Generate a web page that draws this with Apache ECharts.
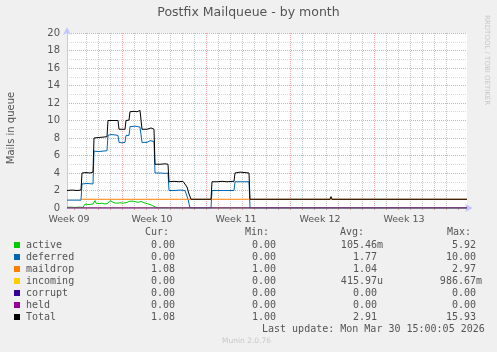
<!DOCTYPE html>
<html><head><meta charset="utf-8">
<script src="https://cdn.jsdelivr.net/npm/echarts@6/dist/echarts.min.js"></script>
<style>html,body{margin:0;padding:0;background:#f0f0f0}#c{width:497px;height:352px}</style>
</head><body><div id="c"></div>
<script>
// ---- data (hours from left edge of the graph, value) ----
const chartTitle = 'Postfix Mailqueue - by month';
const yAxisName = 'Mails in queue';
const spanHours = 800;
const stepHours = 2;
const weekLabels = ['Week 09', 'Week 10', 'Week 11', 'Week 12', 'Week 13'];
const weekLabelHours = [4, 170, 338, 506, 674];
const weekStartHours = [86, 254, 422, 590, 758];
const dayStartOffsetHours = 14;

const seriesNames = ['active', 'deferred', 'maildrop', 'incoming', 'corrupt', 'held', 'Total'];
const seriesColors = ['#00cc00', '#0066b3', '#ff8000', '#ffcc00', '#330099', '#990099', '#000000'];
const curVals = ['0.00', '0.00', '1.08', '0.00', '0.00', '0.00', '1.08'];
const minVals = ['0.00', '0.00', '1.00', '0.00', '0.00', '0.00', '1.00'];
const avgVals = ['105.46m', '1.77', '1.04', '415.97u', '0.00', '0.00', '2.91'];
const maxVals = ['5.92', '10.00', '2.97', '986.67m', '0.00', '0.00', '15.93'];
const lastUpdate = 'Last update: Mon Mar 30 15:00:05 2026';
const muninVersion = 'Munin 2.0.76';
const rrdCredit = 'RRDTOOL / TOBI OETIKER';

const activePts = [[0,0.08],[8,0.1],[16,0.06],[24,0.1],[32,0.08],[34,0.15],[36,0.45],[42,0.4],[46,0.5],[52,0.45],[56,0.85],[58,0.55],[64,0.5],[70,0.55],[76,0.45],[82,0.55],[86,0.85],[88,0.7],[94,0.6],[100,0.55],[106,0.6],[112,0.55],[118,0.6],[124,0.75],[130,0.8],[136,0.72],[142,0.65],[148,0.75],[154,0.6],[160,0.5],[166,0.4],[172,0.25],[176,0.15],[180,0.02],[184,0],[194,0],[196,0.1],[198,0],[224,0],[226,0.1],[228,0],[526,0],[528,0.1],[530,0],[800,0]];
const deferredPts = [[0,0.9],[28,0.9],[30,2.75],[40,2.8],[52,2.75],[54,6.5],[62,6.45],[72,6.5],[80,6.55],[82,8.3],[88,8.4],[96,8.35],[102,8.3],[104,7.5],[110,7.45],[116,7.5],[118,8.3],[124,8.3],[126,9.3],[136,9.35],[146,9.25],[148,9.3],[150,7.5],[160,7.5],[166,7.7],[174,7.6],[176,4.0],[188,4.0],[196,3.95],[202,4.0],[204,2.0],[216,2.0],[226,2.05],[236,2.0],[238,1.9],[242,1.0],[246,0],[288,0],[290,2.0],[310,2.0],[334,2.0],[336,3.0],[364,3.0],[366,0],[800,0]];
const maildropPts = [[30,1.0],[140,1.0],[142,1.1],[144,1.0],[800,1.0]];
const incomingPts = [[0,0],[800,0]];
const corruptPts = [[0,0],[800,0]];
const heldPts = [[0,0],[800,0]];
const totalPts = [[0,2.0],[10,2.05],[20,2.0],[28,2.05],[30,4.0],[38,4.05],[46,4.0],[52,4.1],[54,8.0],[62,8.05],[72,8.1],[80,8.15],[82,10.0],[92,10.0],[102,10.0],[104,9.0],[116,9.0],[118,10.0],[124,10.05],[126,11.0],[134,11.05],[140,11.0],[146,11.15],[148,11.0],[150,9.0],[160,9.0],[168,9.15],[174,9.0],[176,5.0],[186,5.0],[196,5.05],[202,5.0],[204,3.0],[214,3.05],[224,3.0],[232,3.05],[236,3.0],[240,2.4],[244,1.6],[248,1.0],[288,1.0],[290,3.0],[300,3.0],[310,3.05],[320,3.0],[334,3.05],[336,4.0],[346,4.1],[356,4.05],[364,4.0],[366,1.0],[494,1.0],[496,1.2],[498,1.0],[500,1.0],[502,1.2],[504,1.0],[526,1.0],[528,1.3],[530,1.0],[800,1.0]];
const allPts = [activePts, deferredPts, maildropPts, incomingPts, corruptPts, heldPts, totalPts];

// ---- build ----
const categories = [];
for (let h = 0; h <= spanHours; h += stepHours) categories.push(String(h));
const toIdx = pts => pts.map(p => [p[0] / stepHours, p[1]]);
const isWeek = h => weekStartHours.indexOf(h) >= 0;
const isDayOrWeek = h => (h - dayStartOffsetHours) % 24 === 0;
const hourOfIdx = idx => idx * stepHours;

const chart = echarts.init(document.getElementById('c'), null, {renderer: 'canvas'});
const mono = 'DejaVu Sans Mono';
const txtColor = '#555';
const gridMinor = '#c8c8c8';
const gridMajor = '#f3a0a0';
const axisCol = '#c4c4ff';

// colour per drawn vertical grid line: weekly lines red, daily gray
const vLineColors = [];
for (let h = dayStartOffsetHours; h < spanHours; h += 24) vLineColors.push(isWeek(h) ? gridMajor : gridMinor);
const vCycle = vLineColors.slice(0, 7);

const graphics = [];
graphics.push({type: 'text', left: 'center', top: 6, style: {text: chartTitle, font: '12.5px "DejaVu Sans"', fill: '#555'}});
graphics.push({type: 'text', x: 487, y: 15, rotation: -Math.PI / 2, style: {text: rrdCredit, font: '7px "DejaVu Sans"', fill: '#c8c8c8', textAlign: 'left', textVerticalAlign: 'middle'}});
graphics.push({type: 'text', x: 11, y: 128, rotation: Math.PI / 2, style: {text: yAxisName, font: '10px "DejaVu Sans"', fill: txtColor, textAlign: 'center', textVerticalAlign: 'middle'}});
const headers = [['Cur:', 145], ['Min:', 245], ['Avg:', 340], ['Max:', 447]];
headers.forEach(hd => graphics.push({type: 'text', x: hd[1], y: 232, style: {text: hd[0], font: '10px ' + mono, fill: txtColor, textVerticalAlign: 'middle'}}));
const colEnds = [181, 282, 383, 482];
const cols = [curVals, minVals, avgVals, maxVals];
seriesNames.forEach((n, i) => {
  const y = 245 + 12 * i;
  graphics.push({type: 'rect', shape: {x: 14, y: y - 3, width: 6, height: 6}, style: {fill: seriesColors[i]}});
  graphics.push({type: 'text', x: 26, y: y, style: {text: n, font: '10px ' + mono, fill: txtColor, textVerticalAlign: 'middle'}});
  cols.forEach((c, k) => {
    const v = c[i];
    const suffixed = /[a-zA-Z]$/.test(v);
    graphics.push({type: 'text', x: colEnds[k] - (suffixed ? 0 : 6), y: y, style: {text: v, font: '10px ' + mono, fill: txtColor, textAlign: 'right', textVerticalAlign: 'middle'}});
  });
});
graphics.push({type: 'text', x: 262, y: 329, style: {text: lastUpdate, font: '10px ' + mono, fill: txtColor, textVerticalAlign: 'middle'}});
graphics.push({type: 'text', x: 222, y: 341, style: {text: muninVersion, font: '7.5px "DejaVu Sans"', fill: '#c8c8c8', textVerticalAlign: 'middle'}});

const series = seriesNames.map((n, i) => ({
  name: n, type: 'line', data: toIdx(allPts[i]), showSymbol: false, symbol: 'none',
  lineStyle: {width: 1, color: seriesColors[i], opacity: n === 'held' ? 0.55 : 1},
  itemStyle: {color: seriesColors[i]}, z: 2 + i, animation: false
}));

chart.setOption({
  backgroundColor: '#f0f0f0',
  animation: false,
  grid: {left: 67, right: 30, top: 33, bottom: 144, show: true, backgroundColor: '#fff', borderWidth: 0, containLabel: false, outerBoundsMode: 'none'},
  xAxis: {
    type: 'category', data: categories, boundaryGap: false,
    axisLine: {show: true, lineStyle: {color: axisCol}, symbol: ['none', 'arrow'], symbolSize: [6, 8], symbolOffset: [0, 6]},
    axisTick: {show: true, length: 2, interval: idx => isDayOrWeek(hourOfIdx(idx)), lineStyle: {color: '#e0a0a0'}},
    axisLabel: {show: true, interval: idx => weekLabelHours.indexOf(hourOfIdx(idx)) >= 0,
      formatter: v => weekLabels[weekLabelHours.indexOf(Number(v))] || '', color: txtColor, fontSize: 9.5, fontFamily: 'DejaVu Sans', margin: 7},
    splitLine: {show: true, showMinLine: false, showMaxLine: false, interval: idx => isDayOrWeek(hourOfIdx(idx)), lineStyle: {color: vCycle, type: [1, 1], width: 1}}
  },
  yAxis: {
    type: 'value', min: 0, max: 20, interval: 2,
    axisLine: {show: true, lineStyle: {color: axisCol}, symbol: ['none', 'arrow'], symbolSize: [6, 8], symbolOffset: [0, 6]},
    axisTick: {show: false},
    axisLabel: {color: txtColor, fontSize: 10, fontFamily: 'DejaVu Sans', margin: 7},
    splitLine: {show: true, lineStyle: {color: gridMajor, type: [1, 1], width: 1}},
    minorTick: {show: false, splitNumber: 2},
    minorSplitLine: {show: true, lineStyle: {color: '#dcdcdc', type: [1, 1], width: 1}}
  },
  series: series,
  graphic: graphics
});
</script></body></html>
